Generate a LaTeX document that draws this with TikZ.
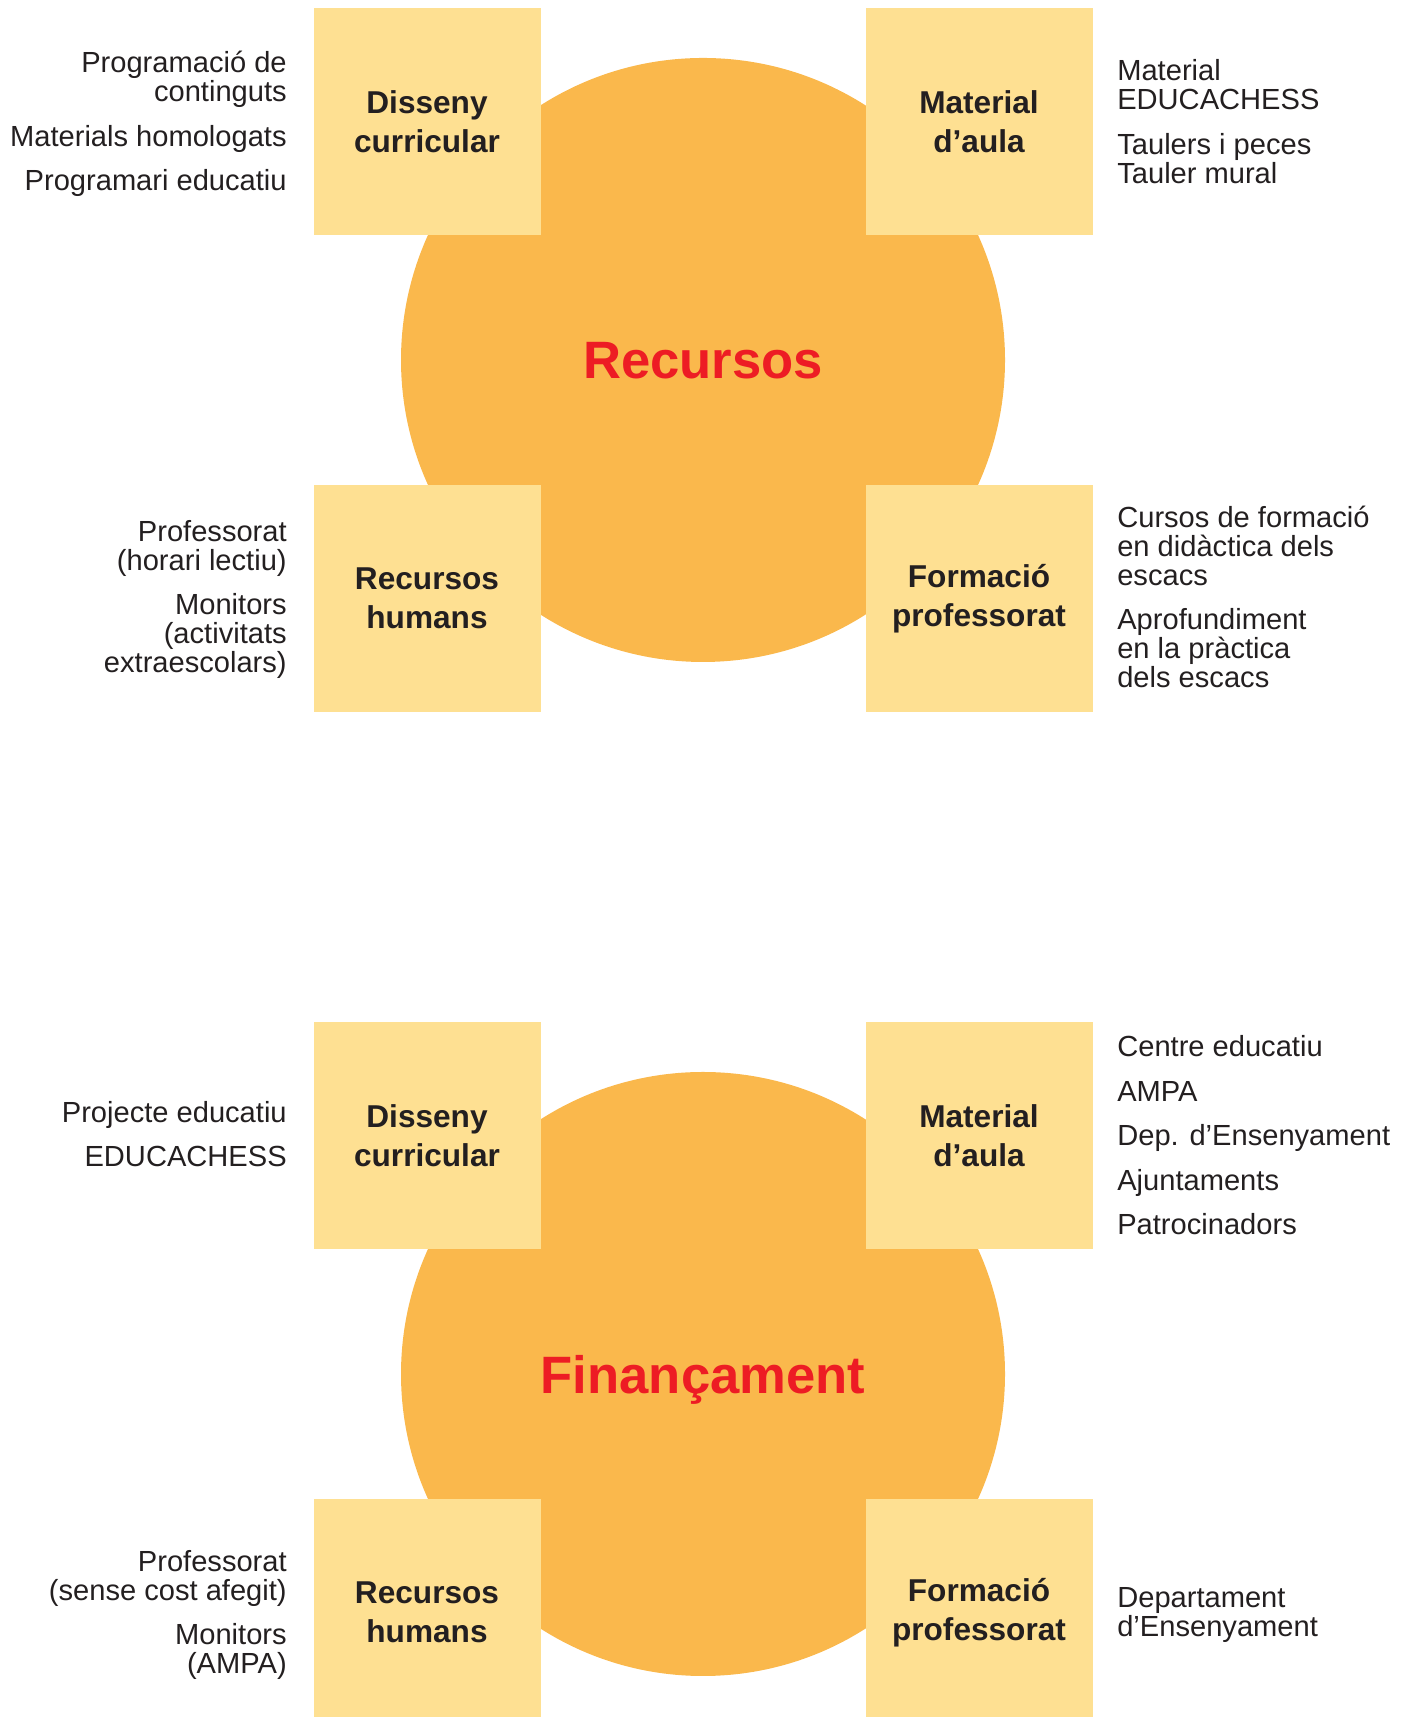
\documentclass[tikz,border=0pt]{standalone}
\usepackage{fontspec}
\setmainfont{Liberation Sans}
\usepackage{tikz}
\usetikzlibrary{positioning}

\definecolor{disc}{HTML}{FAB84C}
\definecolor{pale}{HTML}{FEE092}
\definecolor{ink}{HTML}{231F20}
\definecolor{headred}{HTML}{ED1C24}

\begin{document}
\begin{tikzpicture}[inner sep=0pt, text=ink]
\tikzstyle{hub}=[circle,fill=disc,minimum size=302pt,text=headred,text depth=0pt,font=\fontsize{26.3pt}{30pt}\bfseries\selectfont]
\tikzstyle{tile}=[rectangle,fill=pale,minimum size=113.5pt,on grid,align=center,font=\fontsize{15.8pt}{19.35pt}\bfseries\selectfont]
\tikzstyle{noteL}=[align=right,anchor=base east,font=\fontsize{14.55pt}{14.5pt}\selectfont]
\tikzstyle{noteR}=[align=left,anchor=base west,font=\fontsize{14.55pt}{14.5pt}\selectfont]

\useasboundingbox (0,0) rectangle (706.5pt,858.5pt);

        % Recursos
        \node[hub]                    (R)  at (351.5pt,678.5pt)                   {Recursos};
        \node[tile]                   (R1) [above left=119.25pt and 138pt of R]   {Disseny\\curricular};
        \node[tile]                   (R2) [above right=119.25pt and 138pt of R]  {Material\\d’aula};
        \node[tile]                   (R3) [below left=119.25pt and 138pt of R]   {Recursos\\humans};
        \node[tile]                   (R4) [below right=119.25pt and 138pt of R]  {Formació\\professorat};

        \node[left=13pt of R1, noteL, yshift=-34.6pt]    (nR1) {Programació de\\continguts\\[7.75pt]Materials homologats\\[7.75pt]Programari educatiu};
        \node[right=12pt of R2, noteR, yshift=-30.9pt]   (nR2) {Material\\EDUCACHESS\\[7.75pt]Taulers i peces\\Tauler mural};
        \node[left=13pt of R3, noteL, yshift=-37.25pt]   (nR3) {Professorat\\(horari lectiu)\\[7.75pt]Monitors\\(activitats\\extraescolars)};
        \node[right=12pt of R4, noteR, yshift=-44.75pt]  (nR4) {Cursos de formació\\en didàctica dels\\escacs\\[7.75pt]Aprofundiment\\en la pràctica\\dels escacs};

        % Finançament
        \node[hub, on grid]           (F)  [below=507pt of R]                     {Finançament};
        \node[tile]                   (F1) [above left=119.25pt and 138pt of F]   {Disseny\\curricular};
        \node[tile]                   (F2) [above right=119.25pt and 138pt of F]  {Material\\d’aula};
        \node[tile]                   (F3) [below left=119.25pt and 138pt of F]   {Recursos\\humans};
        \node[tile]                   (F4) [below right=119.25pt and 138pt of F]  {Formació\\professorat};

        \node[left=13pt of F1, noteL, yshift=-15.6pt]    (nF1) {Projecte educatiu\\[7.75pt]EDUCACHESS};
        \node[right=12pt of F2, noteR, yshift=-49.75pt]  (nF2) {Centre educatiu\\[7.75pt]AMPA\\[7.75pt]Dep. d’Ensenyament\\[7.75pt]Ajuntaments\\[7.75pt]Patrocinadors};
        \node[left=13pt of F3, noteL, yshift=-30.75pt]   (nF3) {Professorat\\(sense cost afegit)\\[7.75pt]Monitors\\(AMPA)};
        \node[right=12pt of F4, noteR, yshift=-12.1pt]   (nF4) {Departament\\d’Ensenyament};

\end{tikzpicture}
\end{document}
